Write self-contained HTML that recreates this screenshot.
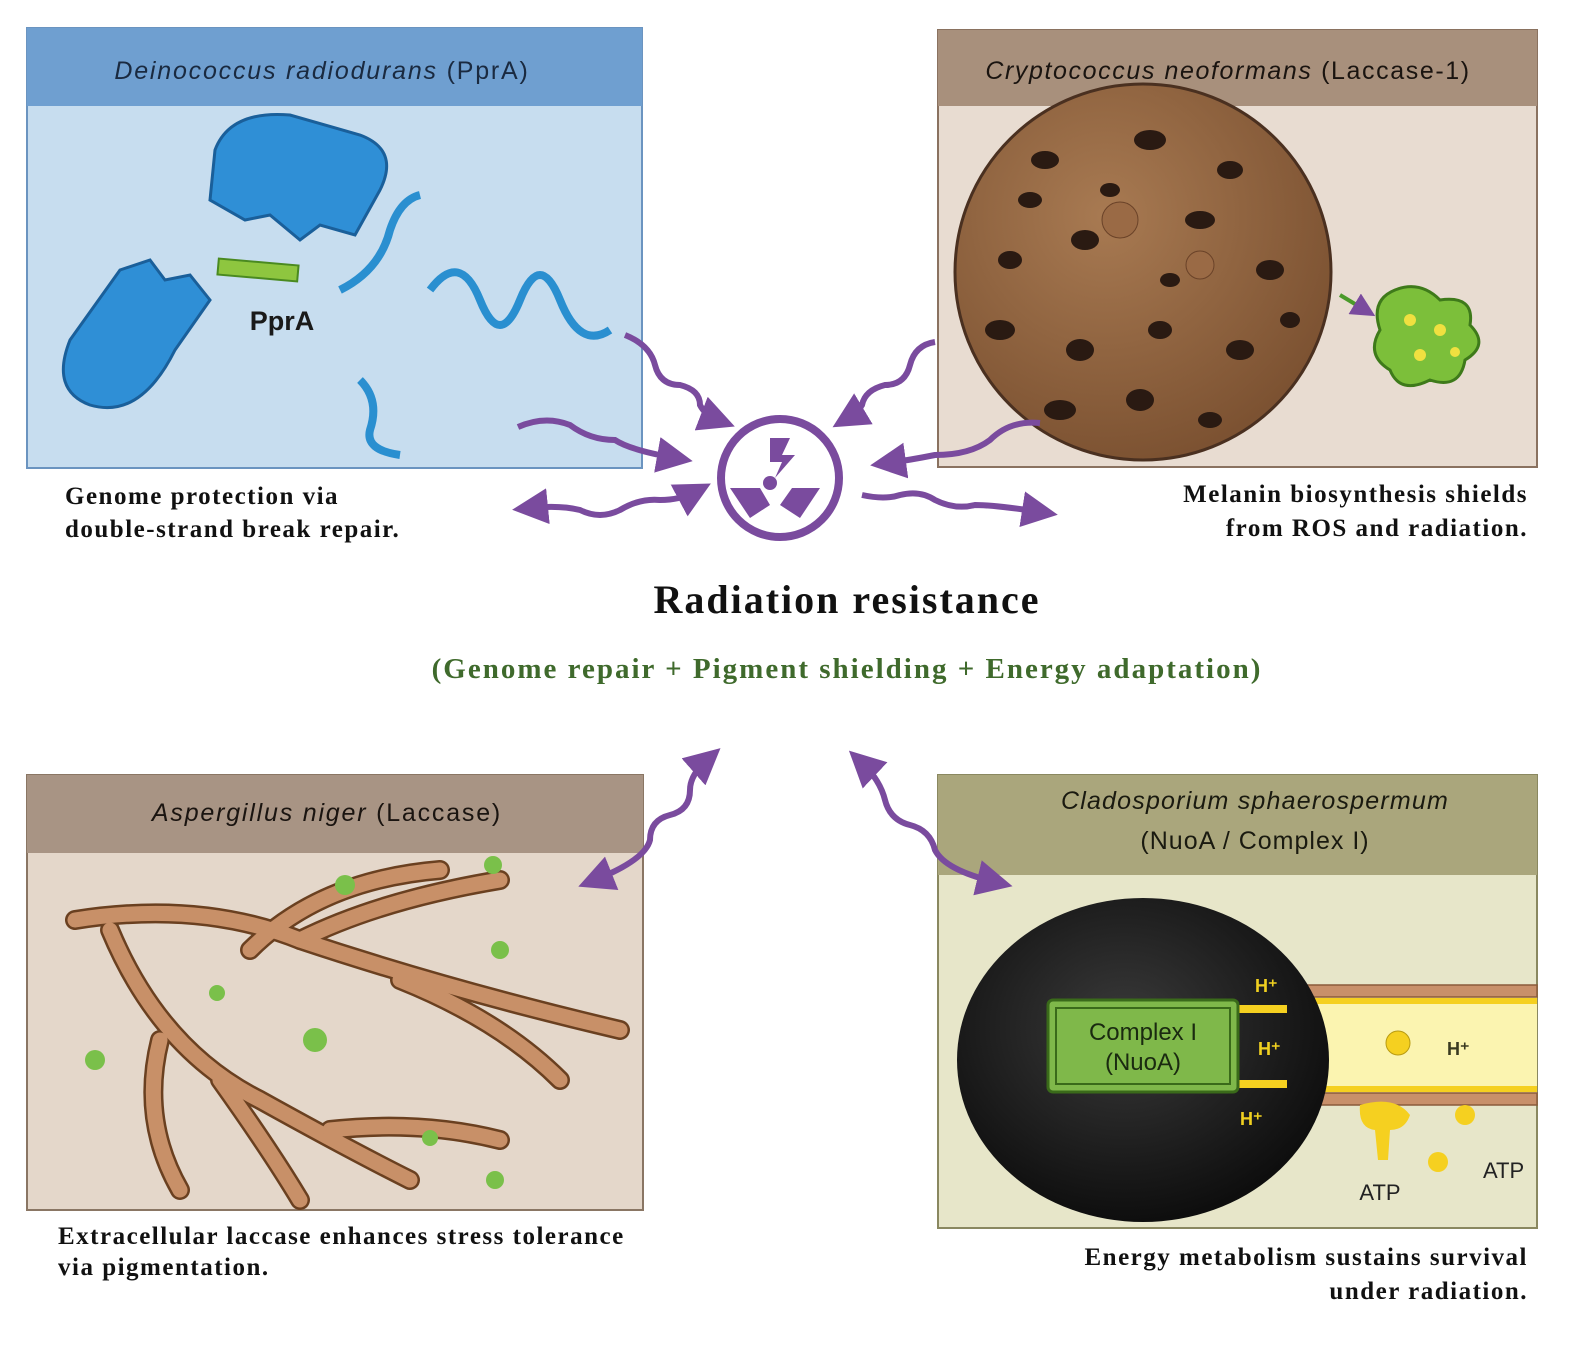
<!DOCTYPE html>
<html><head><meta charset="utf-8"><style>
html,body{margin:0;padding:0;background:#fff;}
svg{display:block;}
.s{font-family:"Liberation Serif",serif;font-weight:bold;}
.a{font-family:"Liberation Sans",sans-serif;}
</style></head><body>
<svg width="1585" height="1348" viewBox="0 0 1585 1348" xmlns="http://www.w3.org/2000/svg">
<defs>
<marker id="ah" markerWidth="6" markerHeight="6" refX="3" refY="3" orient="auto" markerUnits="strokeWidth"><path d="M0,0 L6,3 L0,6 z" fill="#7a4b9e"/></marker>
<marker id="ahs" markerWidth="6" markerHeight="6" refX="3" refY="3" orient="auto-start-reverse" markerUnits="strokeWidth"><path d="M0,0 L6,3 L0,6 z" fill="#7a4b9e"/></marker>
<radialGradient id="cell" cx="0.4" cy="0.35" r="0.7"><stop offset="0" stop-color="#a87a52"/><stop offset="1" stop-color="#7a5030"/></radialGradient>
<radialGradient id="blk" cx="0.45" cy="0.4" r="0.6"><stop offset="0" stop-color="#3a3a3a"/><stop offset="1" stop-color="#0e0e0e"/></radialGradient>
</defs>

<!-- Panel 1 -->
<rect x="27" y="28" width="615" height="440" fill="#c7ddef" stroke="#6b94c0" stroke-width="2"/>
<rect x="27" y="28" width="615" height="78" fill="#6f9fd0"/>
<text x="322" y="79" text-anchor="middle" class="a" font-size="25" letter-spacing="1.8" fill="#1a2a40"><tspan font-style="italic">Deinococcus radiodurans</tspan> (PprA)</text>
<g fill="#2f8fd6" stroke="#1a5f9a" stroke-width="3">
<path d="M215,150 Q230,110 290,115 L360,135 Q400,150 380,190 L355,235 L320,225 L300,240 L270,215 L245,220 L210,200 Z"/>
<path d="M120,270 L150,260 L165,280 L190,275 L210,300 L175,350 Q140,420 90,405 Q50,390 70,340 Z"/>
</g>
<rect x="218" y="262" width="80" height="16" fill="#8ec63f" stroke="#4a8a20" stroke-width="2" transform="rotate(5 258 270)"/>
<text x="282" y="330" text-anchor="middle" class="a" font-weight="bold" font-size="27" fill="#1a1a1a">PprA</text>
<g fill="none" stroke="#2a8fd0" stroke-width="8">
<path d="M340,290 Q380,270 390,230 Q400,200 420,195"/>
<path d="M430,290 Q460,250 480,300 Q500,350 520,300 Q540,250 560,300 Q580,350 610,330"/>
<path d="M360,380 Q380,400 370,430 Q365,450 400,455"/>
</g>

<!-- Panel 2 -->
<rect x="938" y="30" width="599" height="437" fill="#e8dcd1" stroke="#8a7260" stroke-width="2"/>
<rect x="938" y="30" width="599" height="76" fill="#a8907c"/>
<text x="1228" y="79" text-anchor="middle" class="a" font-size="25" letter-spacing="1.6" fill="#1a1410"><tspan font-style="italic">Cryptococcus neoformans</tspan> (Laccase-1)</text>
<circle cx="1143" cy="272" r="188" fill="url(#cell)" stroke="#4a3020" stroke-width="3"/>
<g fill="#2a1a12">
<ellipse cx="1045" cy="160" rx="14" ry="9"/><ellipse cx="1150" cy="140" rx="16" ry="10"/><ellipse cx="1230" cy="170" rx="13" ry="9"/>
<ellipse cx="1010" cy="260" rx="12" ry="9"/><ellipse cx="1085" cy="240" rx="14" ry="10"/><ellipse cx="1200" cy="220" rx="15" ry="9"/>
<ellipse cx="1270" cy="270" rx="14" ry="10"/><ellipse cx="1000" cy="330" rx="15" ry="10"/><ellipse cx="1080" cy="350" rx="14" ry="11"/>
<ellipse cx="1160" cy="330" rx="12" ry="9"/><ellipse cx="1240" cy="350" rx="14" ry="10"/><ellipse cx="1060" cy="410" rx="16" ry="10"/>
<ellipse cx="1140" cy="400" rx="14" ry="11"/><ellipse cx="1210" cy="420" rx="12" ry="8"/><ellipse cx="1290" cy="320" rx="10" ry="8"/>
<ellipse cx="1110" cy="190" rx="10" ry="7"/><ellipse cx="1030" cy="200" rx="12" ry="8"/><ellipse cx="1170" cy="280" rx="10" ry="7"/>
</g>
<circle cx="1120" cy="220" r="18" fill="#9a6a45" stroke="#6a4228"/>
<circle cx="1200" cy="265" r="14" fill="#9a6a45" stroke="#6a4228"/>
<path d="M1395,290 Q1420,280 1440,300 Q1475,295 1470,325 Q1490,345 1465,360 Q1460,390 1430,380 Q1400,395 1390,370 Q1365,355 1380,330 Q1370,300 1395,290Z" fill="#7cbf3a" stroke="#3e7a1a" stroke-width="3"/>
<g fill="#f0e040"><circle cx="1410" cy="320" r="6"/><circle cx="1440" cy="330" r="6"/><circle cx="1420" cy="355" r="6"/><circle cx="1455" cy="352" r="5"/></g>
<path d="M1340,295 L1365,310" stroke="#4a9a2a" stroke-width="4" marker-end="url(#ah)"/>

<!-- Panel 3 -->
<rect x="27" y="775" width="616" height="435" fill="#e4d7ca" stroke="#8a7664" stroke-width="2"/>
<rect x="27" y="775" width="616" height="78" fill="#a89484"/>
<text x="327" y="821" text-anchor="middle" class="a" font-size="25" letter-spacing="1.8" fill="#1a1410"><tspan font-style="italic">Aspergillus niger</tspan> (Laccase)</text>
<g fill="none" stroke="#6a4020" stroke-width="20" stroke-linecap="round">
<path d="M75,920 Q200,900 300,940 Q450,990 620,1030"/>
<path d="M110,930 Q160,1050 260,1100 Q350,1150 410,1180"/>
<path d="M300,940 Q380,900 500,880"/><path d="M250,950 Q320,880 440,870"/>
<path d="M160,1040 Q140,1120 180,1190"/><path d="M220,1080 Q270,1150 300,1200"/>
<path d="M400,980 Q500,1020 560,1080"/><path d="M330,1130 Q420,1120 500,1140"/>
</g>
<g fill="none" stroke="#c89068" stroke-width="15" stroke-linecap="round">
<path d="M75,920 Q200,900 300,940 Q450,990 620,1030"/>
<path d="M110,930 Q160,1050 260,1100 Q350,1150 410,1180"/>
<path d="M300,940 Q380,900 500,880"/><path d="M250,950 Q320,880 440,870"/>
<path d="M160,1040 Q140,1120 180,1190"/><path d="M220,1080 Q270,1150 300,1200"/>
<path d="M400,980 Q500,1020 560,1080"/><path d="M330,1130 Q420,1120 500,1140"/>
</g>
<g fill="#7ac04a"><circle cx="345" cy="885" r="10"/><circle cx="493" cy="865" r="9"/><circle cx="500" cy="950" r="9"/><circle cx="217" cy="993" r="8"/><circle cx="315" cy="1040" r="12"/><circle cx="95" cy="1060" r="10"/><circle cx="430" cy="1138" r="8"/><circle cx="495" cy="1180" r="9"/></g>

<!-- Panel 4 -->
<rect x="938" y="775" width="599" height="453" fill="#e7e6c9" stroke="#8a8860" stroke-width="2"/>
<rect x="938" y="775" width="599" height="100" fill="#aaa67c"/>
<text x="1255" y="809" text-anchor="middle" class="a" font-style="italic" font-size="25" letter-spacing="1.2" fill="#1a1a10">Cladosporium sphaerospermum</text>
<text x="1255" y="849" text-anchor="middle" class="a" font-size="25" letter-spacing="1" fill="#1a1a10">(NuoA / Complex I)</text>
<rect x="1237" y="995" width="300" height="100" fill="#fbf4b0"/>
<g fill="#c8906a" stroke="#8a5a3a" stroke-width="1.5">
<rect x="1280" y="985" width="257" height="12"/><rect x="1280" y="1093" width="257" height="12"/>
</g>
<rect x="1280" y="998" width="257" height="6" fill="#f5d020"/><rect x="1280" y="1086" width="257" height="6" fill="#f5d020"/>
<ellipse cx="1143" cy="1060" rx="186" ry="162" fill="url(#blk)"/>
<rect x="1237" y="1005" width="50" height="8" fill="#f5d020"/><rect x="1237" y="1080" width="50" height="8" fill="#f5d020"/>
<rect x="1048" y="1000" width="190" height="92" rx="5" fill="#7fb84a" stroke="#3a6a1a" stroke-width="3"/>
<rect x="1056" y="1008" width="174" height="76" fill="none" stroke="#3a6a1a" stroke-width="2"/>
<text x="1143" y="1040" text-anchor="middle" class="a" font-size="24" fill="#1a2a10">Complex I</text>
<text x="1143" y="1070" text-anchor="middle" class="a" font-size="24" fill="#1a2a10">(NuoA)</text>
<g class="a" font-size="18" font-weight="bold" fill="#f0d020">
<text x="1255" y="992">H⁺</text><text x="1258" y="1055">H⁺</text><text x="1240" y="1125">H⁺</text><text x="1447" y="1055" fill="#3a3a20">H⁺</text>
</g>
<circle cx="1398" cy="1043" r="12" fill="#f5d020" stroke="#b89a10"/>
<path d="M1360,1105 Q1395,1095 1410,1115 Q1405,1130 1390,1130 L1388,1160 L1378,1160 L1375,1130 Q1358,1128 1360,1105Z" fill="#f5d020"/>
<circle cx="1465" cy="1115" r="10" fill="#f5d020"/><circle cx="1438" cy="1162" r="10" fill="#f5d020"/>
<text x="1483" y="1178" class="a" font-size="22" fill="#222">ATP</text>
<text x="1380" y="1200" text-anchor="middle" class="a" font-size="22" fill="#222">ATP</text>

<!-- Center icon -->
<circle cx="780" cy="478" r="59" fill="none" stroke="#7a4b9e" stroke-width="8"/>
<path d="M770,438 L790,438 L782,455 L795,455 L775,478 L782,462 L770,462Z" fill="#7a4b9e"/>
<circle cx="770" cy="483" r="7" fill="#7a4b9e"/>
<path d="M730,488 L760,488 L770,505 L750,518Z" fill="#7a4b9e"/>
<path d="M780,505 L792,488 L820,488 L800,518Z" fill="#7a4b9e"/>

<g fill="none" stroke="#7a4b9e" stroke-width="6">
<path d="M625,335 Q650,345 655,365 Q660,385 680,385 Q700,390 700,405 Q705,415 718,420" marker-end="url(#ah)"/>
<path d="M935,342 Q915,345 910,365 Q905,385 885,385 Q865,390 862,405 Q858,412 848,418" marker-end="url(#ah)"/>
<path d="M518,427 Q545,415 570,425 Q590,440 615,440 Q630,450 675,458" marker-end="url(#ah)"/>
<path d="M1040,423 Q1010,420 990,440 Q970,455 935,455 Q910,460 888,463" marker-end="url(#ah)"/>
<path d="M530,508 Q560,505 580,510 Q600,520 620,510 Q640,498 660,500 Q680,500 695,492" marker-end="url(#ah)" marker-start="url(#ahs)"/>
<path d="M862,495 Q885,500 900,495 Q920,490 935,500 Q955,510 975,505 Q995,505 1040,512" marker-end="url(#ah)"/>
<path d="M707,760 Q690,775 690,790 Q690,810 670,815 Q650,820 650,840 Q645,860 595,880" marker-end="url(#ah)" marker-start="url(#ahs)"/>
<path d="M862,763 Q880,780 885,800 Q890,820 910,825 Q930,830 935,850 Q945,870 995,882" marker-end="url(#ah)" marker-start="url(#ahs)"/>
</g>

<g class="s" font-size="25" letter-spacing="1.5" fill="#111">
<text x="65" y="504">Genome protection via</text>
<text x="65" y="537">double-strand break repair.</text>
<text x="1528" y="502" text-anchor="end">Melanin biosynthesis shields</text>
<text x="1528" y="536" text-anchor="end">from ROS and radiation.</text>
<text x="58" y="1244">Extracellular laccase enhances stress tolerance</text>
<text x="58" y="1275">via pigmentation.</text>
<text x="1528" y="1265" text-anchor="end">Energy metabolism sustains survival</text>
<text x="1528" y="1299" text-anchor="end">under radiation.</text>
</g>
<text x="847" y="613" text-anchor="middle" class="s" font-size="40" letter-spacing="2" fill="#111">Radiation resistance</text>
<text x="847" y="678" text-anchor="middle" class="s" font-size="29" letter-spacing="2" fill="#3f6a2c">(Genome repair + Pigment shielding + Energy adaptation)</text>
</svg>
</body></html>
